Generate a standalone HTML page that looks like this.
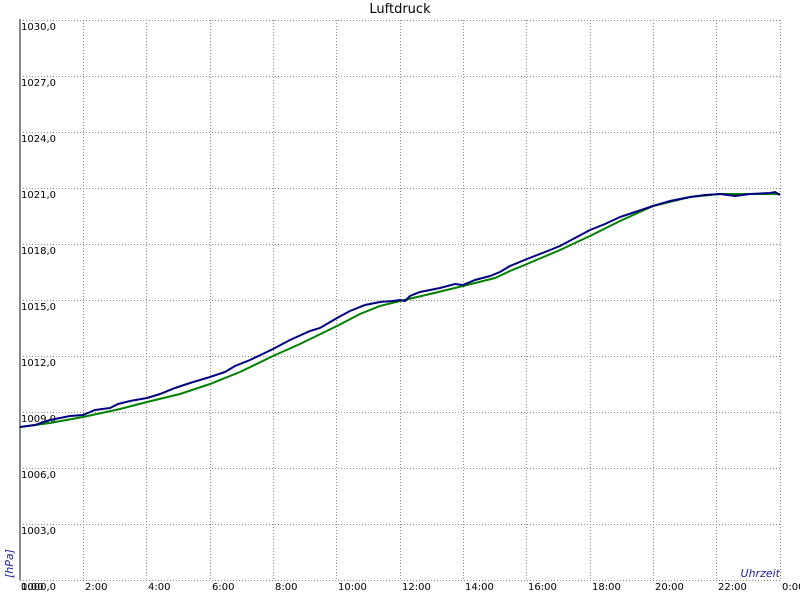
<!DOCTYPE html>
<html><head><meta charset="utf-8"><style>
html,body{margin:0;padding:0;background:#fff;}
svg{display:block;font-family:"DejaVu Sans","Liberation Sans",sans-serif;}
</style></head><body>
<svg width="800" height="600" viewBox="0 0 800 600" xmlns="http://www.w3.org/2000/svg">
<rect width="800" height="600" fill="#fff"/>
<text x="400" y="13" font-size="13" text-anchor="middle" fill="#000">Luftdruck</text>
<g stroke="#888" stroke-width="1" stroke-dasharray="1,2" shape-rendering="crispEdges">
<line x1="20" y1="20.5" x2="780" y2="20.5"/><line x1="20" y1="76.5" x2="780" y2="76.5"/><line x1="20" y1="132.5" x2="780" y2="132.5"/><line x1="20" y1="188.5" x2="780" y2="188.5"/><line x1="20" y1="244.5" x2="780" y2="244.5"/><line x1="20" y1="300.5" x2="780" y2="300.5"/><line x1="20" y1="356.5" x2="780" y2="356.5"/><line x1="20" y1="412.5" x2="780" y2="412.5"/><line x1="20" y1="468.5" x2="780" y2="468.5"/><line x1="20" y1="524.5" x2="780" y2="524.5"/><line x1="20" y1="580.5" x2="780" y2="580.5"/>
<line x1="83.5" y1="20" x2="83.5" y2="580"/><line x1="146.5" y1="20" x2="146.5" y2="580"/><line x1="210.5" y1="20" x2="210.5" y2="580"/><line x1="273.5" y1="20" x2="273.5" y2="580"/><line x1="336.5" y1="20" x2="336.5" y2="580"/><line x1="400.5" y1="20" x2="400.5" y2="580"/><line x1="463.5" y1="20" x2="463.5" y2="580"/><line x1="526.5" y1="20" x2="526.5" y2="580"/><line x1="590.5" y1="20" x2="590.5" y2="580"/><line x1="653.5" y1="20" x2="653.5" y2="580"/><line x1="716.5" y1="20" x2="716.5" y2="580"/><line x1="780.5" y1="20" x2="780.5" y2="580"/>
</g>
<line x1="20" y1="19" x2="20" y2="580" stroke="#888" stroke-width="2"/>
<g font-size="10" fill="#000">
<text x="21" y="30">1030,0</text><text x="21" y="86">1027,0</text><text x="21" y="142">1024,0</text><text x="21" y="198">1021,0</text><text x="21" y="254">1018,0</text><text x="21" y="310">1015,0</text><text x="21" y="366">1012,0</text><text x="21" y="422">1009,0</text><text x="21" y="478">1006,0</text><text x="21" y="534">1003,0</text><text x="21" y="590">1000,0</text>
<text x="21" y="590">0:00</text><text x="85" y="590">2:00</text><text x="148" y="590">4:00</text><text x="212" y="590">6:00</text><text x="275" y="590">8:00</text><text x="338" y="590">10:00</text><text x="402" y="590">12:00</text><text x="465" y="590">14:00</text><text x="528" y="590">16:00</text><text x="592" y="590">18:00</text><text x="655" y="590">20:00</text><text x="718" y="590">22:00</text><text x="782" y="590">0:00</text>
</g>
<text x="780" y="577" font-size="11" font-style="italic" fill="#22229a" text-anchor="end">Uhrzeit</text>
<text transform="translate(13,578) rotate(-90)" font-size="11" font-style="italic" fill="#22229a">[hPa]</text>
<polyline fill="none" stroke="#008000" stroke-width="2" points="20,427 50,423 83,417 120,409 147,402 180,394 210,384 240,372 273,356 300,344 337,326 360,314 380,306 400,301 430,294 463,286 495,278 510,271 527,264 560,250 590,236 620,221 653,206 690,197 720,194 750,194 780,194"/>
<polyline fill="none" stroke="#000080" stroke-width="2" points="20,427 35,425 50,420 70,416 83,415 95,410 110,408 118,404 130,401 147,398 160,394 175,388 190,383 210,377 225,372 235,366 250,360 273,349 290,340 310,331 320,328 337,318 350,311 365,305 380,302 393,301 400,300 405,301 410,296 420,292 440,288 455,284 463,285 475,280 490,276 500,272 510,266 527,259 545,252 560,246 575,238 590,230 605,224 620,217 635,212 653,206 670,201 690,197 705,195 720,194 735,196 750,194 770,193 775,192 780,195"/>
</svg>
</body></html>
